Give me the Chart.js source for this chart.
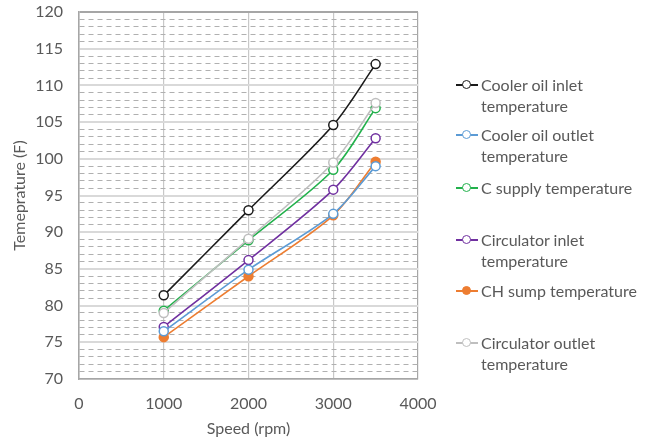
<!DOCTYPE html>
<html>
<head>
<meta charset="utf-8">
<script src="https://cdn.jsdelivr.net/npm/chart.js@4.4.0/dist/chart.umd.min.js"></script>
<style>
  body { margin: 0; background: #fff; }
  #wrap { position: relative; width: 658px; height: 442px; }
  #legend { position: absolute; left: 456px; top: 74px; font-family: Lato, "Open Sans", sans-serif; font-size: 16px; color: #595959; }
  .item { position: absolute; left: 0; width: 210px; line-height: 21px; }
  .mark { position: absolute; left: 0; top: 10px; width: 22px; height: 2px; }
  .dot { position: absolute; left: 6px; top: -4px; width: 7px; height: 7px; border-radius: 50%; border: 1.5px solid; background: #fff; }
  .txt { position: absolute; left: 25px; top: 0; white-space: nowrap; }
</style>
</head>
<body>
<div id="wrap">
  <canvas id="grafico" width="658" height="442"></canvas>
  <div id="legend"></div>
</div>
<script>
const velocidad = [1000, 2000, 3000, 3500];

const coolerInlet = [81.4, 93.0, 104.6, 112.9];
const coolerOutlet = [76.5, 84.9, 92.5, 99.0];
const cSupply = [79.3, 88.9, 98.5, 106.9];
const circInlet = [77.1, 86.2, 95.8, 102.8];
const chSump = [75.7, 84.0, 92.3, 99.6];
const circOutlet = [79.0, 89.1, 99.5, 107.6];

const nombres = [
    ["Cooler oil inlet", "temperature"],
    ["Cooler oil outlet", "temperature"],
    ["C supply temperature"],
    ["Circulator inlet", "temperature"],
    ["CH sump temperature"],
    ["Circulator outlet", "temperature"]
];
const series = [coolerInlet, coolerOutlet, cSupply, circInlet, chSump, circOutlet];
const colores = ["#1a1a1a", "#5b9bd5", "#22b14c", "#7030a0", "#ed7d31", "#bfbfbf"];
const rellenos = [false, false, false, false, true, false];

// dibujar en este orden (gris detras)
const orden = [5, 1, 4, 3, 2, 0];

const datasets = orden.map(i => ({
    label: nombres[i].join(" "),
    data: velocidad.map((x, k) => ({ x: x, y: series[i][k] })),
    borderColor: colores[i],
    backgroundColor: rellenos[i] ? colores[i] : "#fff",
    pointBorderColor: colores[i],
    pointBackgroundColor: rellenos[i] ? colores[i] : "#fff",
    pointRadius: 4.5,
    pointBorderWidth: 1.5,
    borderWidth: 1.6,
    tension: 0.3,
    fill: false
}));

const fuente = { family: "Lato, 'Open Sans', sans-serif", size: 16 };

new Chart(document.getElementById("grafico"), {
    type: "line",
    data: { datasets: datasets },
    options: {
        responsive: false,
        animation: false,
        layout: { padding: { top: 12, right: 240, left: 0, bottom: 0 } },
        plugins: { legend: { display: false }, tooltip: { enabled: false } },
        scales: {
            x: {
                type: "linear",
                min: 0, max: 4000,
                ticks: { stepSize: 1000, color: "#595959", font: fuente, padding: 15, callback: v => String(v) },
                grid: {
                    drawTicks: false,
                    color: ctx => (ctx.tick && (ctx.tick.value === 0 || ctx.tick.value === 4000)) ? "#a6a6a6" : "#c8c8c8",
                    lineWidth: 1.2
                },
                border: { color: "#a6a6a6", width: 1.5 },
                title: { display: true, text: "Speed (rpm)", color: "#595959", font: fuente, padding: { top: 2 } },
                afterFit: s => { s.height = 63; s.paddingLeft = 0; s.paddingRight = 0; }
            },
            y: {
                min: 70, max: 120,
                ticks: {
                    stepSize: 1, autoSkip: false, color: "#595959", font: fuente, padding: 16,
                    callback: v => v % 5 === 0 ? v : ""
                },
                grid: {
                    drawTicks: false,
                    color: ctx => {
                        const v = ctx.tick ? ctx.tick.value : 0;
                        if (v === 120) return "#a6a6a6";
                        return v % 5 === 0 ? "#d9d9d9" : "#b0b0b0";
                    },
                    lineWidth: ctx => (ctx.tick && ctx.tick.value % 5 === 0) ? 2 : 1
                },
                border: {
                    color: "#a6a6a6", width: 1.5,
                    dash: ctx => (ctx.tick && ctx.tick.value % 5 !== 0) ? [5, 4] : []
                },
                title: { display: true, text: "Temeprature (F)", color: "#595959", font: fuente, padding: { top: 10, bottom: 0 } },
                afterFit: s => { s.width = 79; s.paddingTop = 0; s.paddingBottom = 0; }
            }
        }
    }
});

// leyenda con texto en dos lineas
const leyenda = document.getElementById("legend");
const tops = [0, 50, 103, 155, 206, 258];
nombres.forEach((n, i) => {
    const it = document.createElement("div");
    it.className = "item";
    it.style.top = tops[i] + "px";
    const m = document.createElement("div");
    m.className = "mark";
    m.style.background = colores[i];
    const d = document.createElement("div");
    d.className = "dot";
    d.style.borderColor = colores[i];
    if (rellenos[i]) d.style.background = colores[i];
    m.appendChild(d);
    const t = document.createElement("div");
    t.className = "txt";
    t.innerHTML = n.join("<br>");
    it.appendChild(m);
    it.appendChild(t);
    leyenda.appendChild(it);
});
</script>
</body>
</html>
